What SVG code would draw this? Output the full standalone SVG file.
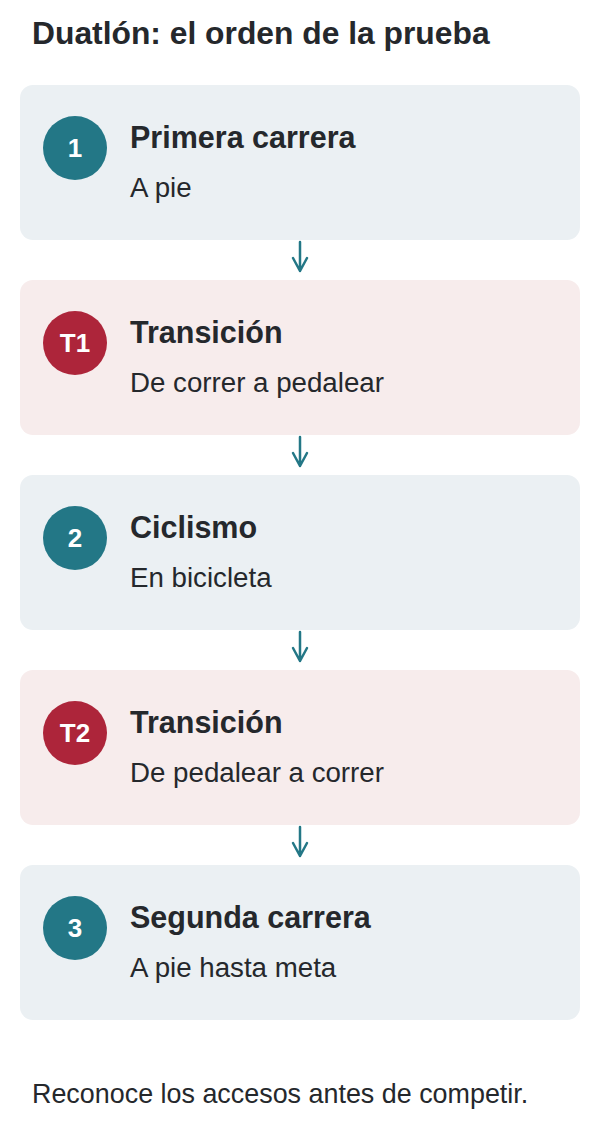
<svg xmlns="http://www.w3.org/2000/svg" width="600" height="1140" viewBox="0 0 600 1140">
<defs>
<style>
.bg{fill:#ffffff}
.card-run{fill:#ebf0f3}
.card-tr{fill:#f7ecec}
.b-run{fill:#237786}
.b-tr{fill:#ad253a}
.badge{font-family:"Liberation Sans",Arial,sans-serif;font-weight:bold;font-size:26px;fill:#ffffff;text-anchor:middle}
.title{font-family:"Liberation Sans",Arial,sans-serif;font-weight:bold;font-size:30.5px;fill:#25282c}
.sub{font-family:"Liberation Sans",Arial,sans-serif;font-size:27.7px;fill:#25282c}
.head{font-family:"Liberation Sans",Arial,sans-serif;font-weight:bold;font-size:31.8px;fill:#25282c}
.foot{font-family:"Liberation Sans",Arial,sans-serif;font-size:26.9px;fill:#25282c}
.conn{fill:none;stroke:#237786;stroke-width:2.5;stroke-linecap:round;stroke-linejoin:round}
</style>
</defs>
<rect class="bg" x="0" y="0" width="600" height="1140"/>
<text class="head" x="32" y="44">Duatlón: el orden de la prueba</text>

<g id="step1">
<rect class="card-run" x="20" y="85" width="560" height="155" rx="13"/>
<circle class="b-run" cx="75" cy="148" r="32"/>
<text class="badge" x="75" y="157">1</text>
<text class="title" x="130" y="148">Primera carrera</text>
<text class="sub" x="130" y="197">A pie</text>
</g>

<g id="t1">
<rect class="card-tr" x="20" y="280" width="560" height="155" rx="13"/>
<circle class="b-tr" cx="75" cy="343" r="32"/>
<text class="badge" x="75" y="352">T1</text>
<text class="title" x="130" y="343">Transición</text>
<text class="sub" x="130" y="392">De correr a pedalear</text>
</g>

<g id="step2">
<rect class="card-run" x="20" y="475" width="560" height="155" rx="13"/>
<circle class="b-run" cx="75" cy="538" r="32"/>
<text class="badge" x="75" y="547">2</text>
<text class="title" x="130" y="538">Ciclismo</text>
<text class="sub" x="130" y="587">En bicicleta</text>
</g>

<g id="t2">
<rect class="card-tr" x="20" y="670" width="560" height="155" rx="13"/>
<circle class="b-tr" cx="75" cy="733" r="32"/>
<text class="badge" x="75" y="742">T2</text>
<text class="title" x="130" y="733">Transición</text>
<text class="sub" x="130" y="782">De pedalear a correr</text>
</g>

<g id="step3">
<rect class="card-run" x="20" y="865" width="560" height="155" rx="13"/>
<circle class="b-run" cx="75" cy="928" r="32"/>
<text class="badge" x="75" y="937">3</text>
<text class="title" x="130" y="928">Segunda carrera</text>
<text class="sub" x="130" y="977">A pie hasta meta</text>
</g>

<g id="connectors">
<path class="conn" d="M300 242V271M293 258L300 271L307 258"/>
<path class="conn" d="M300 437V466M293 453L300 466L307 453"/>
<path class="conn" d="M300 632V661M293 648L300 661L307 648"/>
<path class="conn" d="M300 827V856M293 843L300 856L307 843"/>
</g>

<text class="foot" x="32" y="1103">Reconoce los accesos antes de competir.</text>
</svg>
